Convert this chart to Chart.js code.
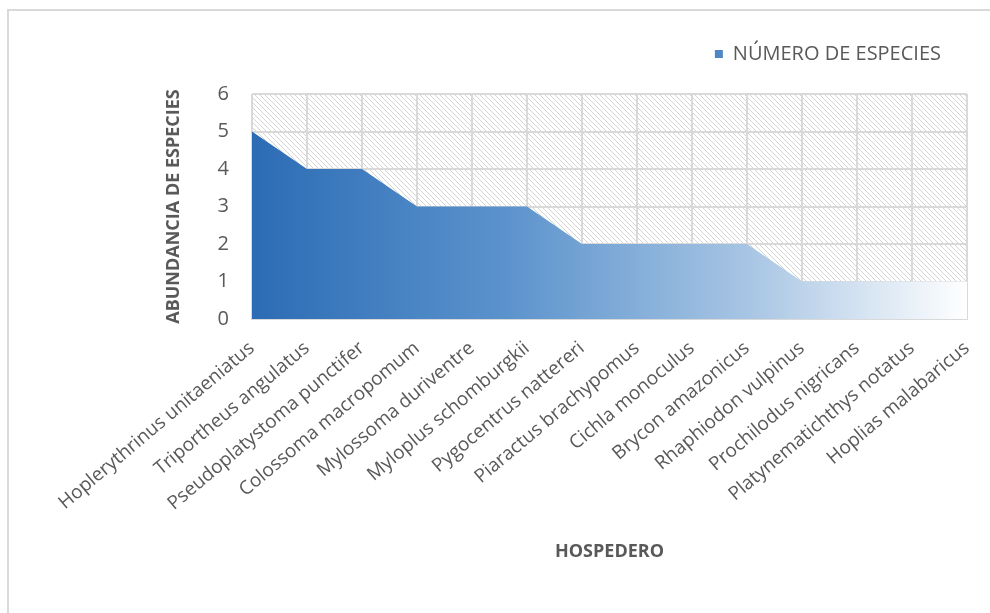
<!DOCTYPE html>
<html>
<head>
<meta charset="utf-8">
<script src="https://cdn.jsdelivr.net/npm/chart.js@4/dist/chart.umd.min.js"></script>
<style>
    html, body { margin: 0; padding: 0; background: #fff; }
    #wrap { position: relative; width: 990px; height: 613px; overflow: hidden; }
    #frame { position: absolute; left: 7px; top: 9px; width: 1000px; height: 700px;
             border-left: 2px solid #d9d9d9; border-top: 2px solid #d9d9d9; }
    canvas { position: absolute; left: 0; top: 0; }
</style>
</head>
<body>
<div id="wrap">
    <div id="frame"></div>
    <canvas id="chart" width="990" height="613"></canvas>
</div>
<script>
// Hosts (categories) and number of parasite species
const hosts = [
    'Hoplerythrinus unitaeniatus', 'Triportheus angulatus', 'Pseudoplatystoma punctifer',
    'Colossoma macropomum', 'Mylossoma duriventre', 'Myloplus schomburgkii',
    'Pygocentrus nattereri', 'Piaractus brachypomus', 'Cichla monoculus',
    'Brycon amazonicus', 'Rhaphiodon vulpinus', 'Prochilodus nigricans',
    'Platynematichthys notatus', 'Hoplias malabaricus'
];
const speciesCount = [5, 4, 4, 3, 3, 3, 2, 2, 2, 2, 1, 1, 1, 1];
const yTicks = [0, 1, 2, 3, 4, 5, 6];

const textColor = '#595959';
const gridColor = '#d9d9d9';
const fontFamily = "'Open Sans', 'Liberation Sans', sans-serif";

// Small diagonal hatch used as plot-area background
function makeHatch() {
    const c = document.createElement('canvas');
    c.width = 5;
    c.height = 5;
    const g = c.getContext('2d');
    g.fillStyle = '#ffffff';
    g.fillRect(0, 0, 5, 5);
    g.strokeStyle = 'rgba(0,0,0,0.17)';
    g.lineWidth = 1;
    g.beginPath();
    g.moveTo(-1, -1); g.lineTo(6, 6);
    g.moveTo(-4, 1); g.lineTo(4, 9);
    g.moveTo(1, -4); g.lineTo(9, 4);
    g.stroke();
    return c;
}

const hatchBackground = {
    id: 'hatchBackground',
    beforeLayout(chart) {
        // extra gap between the legend and the plot
        const legend = chart.legend;
        if (legend && !legend._padded) {
            const fit = legend.fit;
            legend.fit = function () {
                fit.call(this);
                this.height += 20;
            };
            legend._padded = true;
        }
    },
    afterLayout(chart) {
        if (chart.legend) {
            chart.legend.left += 4;
            chart.legend.right += 4;
        }
    },
    beforeDraw(chart) {
        const { ctx, chartArea } = chart;
        if (!chartArea) return;
        ctx.save();
        ctx.fillStyle = ctx.createPattern(makeHatch(), 'repeat');
        ctx.fillRect(chartArea.left, chartArea.top,
            chartArea.right - chartArea.left, chartArea.bottom - chartArea.top);
        ctx.restore();
    }
};

function areaGradient(context) {
    const area = context.chart.chartArea;
    if (!area) return '#2e6db4';
    const g = context.chart.ctx.createLinearGradient(area.left, 0, area.right, 0);
    g.addColorStop(0, '#2c6cb5');
    g.addColorStop(0.35, '#5a92cc');
    g.addColorStop(0.7, '#a9c6e4');
    g.addColorStop(1, '#ffffff');
    return g;
}

const ctx = document.getElementById('chart').getContext('2d');
new Chart(ctx, {
    type: 'line',
    data: {
        labels: hosts,
        datasets: [{
            label: 'NÚMERO DE ESPECIES',
            data: speciesCount,
            fill: 'origin',
            backgroundColor: areaGradient,
            borderWidth: 0,
            pointRadius: 0,
            tension: 0
        }]
    },
    plugins: [hatchBackground],
    options: {
        responsive: false,
        animation: false,
        layout: { padding: { left: 163, right: 23, top: 14, bottom: 30 } },
        plugins: {
            tooltip: { enabled: false },
            legend: {
                position: 'top',
                align: 'end',
                labels: {
                    color: textColor,
                    font: { family: fontFamily, size: 20 },
                    boxWidth: 8,
                    boxHeight: 8,
                    padding: 30,
                    generateLabels: () => [{
                        text: 'NÚMERO DE ESPECIES',
                        fillStyle: '#4f86c6',
                        strokeStyle: '#4f86c6',
                        lineWidth: 0,
                        fontColor: textColor,
                        datasetIndex: 0
                    }]
                }
            }
        },
        scales: {
            x: {
                offset: false,
                grid: { color: gridColor, lineWidth: 2, drawTicks: false },
                border: { color: gridColor, width: 2 },
                ticks: {
                    color: textColor,
                    font: { family: fontFamily, size: 19 },
                    maxRotation: 40,
                    minRotation: 40,
                    autoSkip: false,
                    padding: 18
                },
                title: {
                    display: true,
                    text: 'HOSPEDERO',
                    color: textColor,
                    font: { family: fontFamily, size: 18, weight: 'bold' },
                    padding: { top: 0, bottom: 20 }
                },
                afterFit(scale) {
                    scale.height = 264;
                    scale.paddingLeft = 0;
                    scale.paddingRight = 0;
                }
            },
            y: {
                min: 0,
                max: 6,
                afterBuildTicks(scale) { scale.ticks = yTicks.map(v => ({ value: v })); },
                grid: { color: gridColor, lineWidth: 2, drawTicks: false },
                border: { display: false },
                ticks: {
                    color: textColor,
                    font: { family: fontFamily, size: 20 },
                    padding: 23
                },
                title: {
                    display: true,
                    text: 'ABUNDANCIA DE ESPECIES',
                    color: textColor,
                    font: { family: fontFamily, size: 18, weight: 'bold' },
                    padding: { top: 0, bottom: 0 }
                },
                afterFit(scale) { scale.width = 89; }
            }
        }
    }
});
</script>
</body>
</html>
